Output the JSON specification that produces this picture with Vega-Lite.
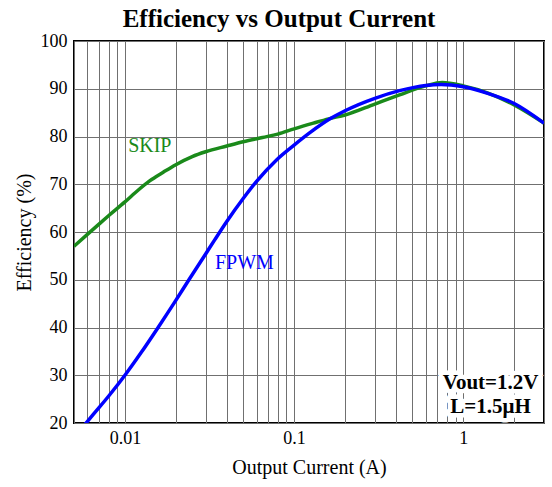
{
  "$schema": "https://vega.github.io/schema/vega-lite/v6.json",
  "autosize": "none",
  "width": 470,
  "height": 382,
  "padding": {"left": 74, "top": 41, "right": 8, "bottom": 64},
  "background": "white",
  "config": {
    "font": "Liberation Serif",
    "view": {"stroke": "#000000", "strokeWidth": 2},
    "axis": {"labelFont": "Liberation Serif", "titleFont": "Liberation Serif", "labelColor": "#000", "titleColor": "#000", "domain": false, "ticks": false, "gridColor": "#707070", "gridOpacity": 1, "gridWidth": 1, "labelFontSize": 18, "titleFontSize": 20, "titleFontWeight": "normal"}
  },
  "title": {"text": "Efficiency vs Output Current", "font": "Liberation Serif", "fontSize": 25, "fontWeight": "bold", "color": "#000", "anchor": "middle", "frame": "bounds", "offset": 0},
  "datasets": {
    "curves": [
      {"series": "SKIP", "I": 0.005, "Eff": 57.0},
      {"series": "SKIP", "I": 0.006, "Eff": 59.5},
      {"series": "SKIP", "I": 0.007, "Eff": 61.6},
      {"series": "SKIP", "I": 0.008, "Eff": 63.4},
      {"series": "SKIP", "I": 0.01, "Eff": 66.3},
      {"series": "SKIP", "I": 0.012, "Eff": 68.8},
      {"series": "SKIP", "I": 0.014, "Eff": 70.7},
      {"series": "SKIP", "I": 0.017, "Eff": 72.6},
      {"series": "SKIP", "I": 0.02, "Eff": 74.1},
      {"series": "SKIP", "I": 0.025, "Eff": 75.8},
      {"series": "SKIP", "I": 0.03, "Eff": 76.8},
      {"series": "SKIP", "I": 0.04, "Eff": 78.0},
      {"series": "SKIP", "I": 0.05, "Eff": 78.9},
      {"series": "SKIP", "I": 0.065, "Eff": 79.8},
      {"series": "SKIP", "I": 0.08, "Eff": 80.5},
      {"series": "SKIP", "I": 0.1, "Eff": 81.6},
      {"series": "SKIP", "I": 0.13, "Eff": 82.8},
      {"series": "SKIP", "I": 0.16, "Eff": 83.7},
      {"series": "SKIP", "I": 0.2, "Eff": 84.5},
      {"series": "SKIP", "I": 0.3, "Eff": 86.8},
      {"series": "SKIP", "I": 0.42, "Eff": 88.7},
      {"series": "SKIP", "I": 0.6, "Eff": 90.6},
      {"series": "SKIP", "I": 0.75, "Eff": 91.3},
      {"series": "SKIP", "I": 1.0, "Eff": 90.6},
      {"series": "SKIP", "I": 1.4, "Eff": 89.1},
      {"series": "SKIP", "I": 2.0, "Eff": 86.6},
      {"series": "SKIP", "I": 3.0, "Eff": 82.8},
      {"series": "FPWM", "I": 0.0055, "Eff": 18.7},
      {"series": "FPWM", "I": 0.0065, "Eff": 21.8},
      {"series": "FPWM", "I": 0.008, "Eff": 25.6},
      {"series": "FPWM", "I": 0.01, "Eff": 30.0},
      {"series": "FPWM", "I": 0.0125, "Eff": 34.8},
      {"series": "FPWM", "I": 0.0155, "Eff": 39.7},
      {"series": "FPWM", "I": 0.0196, "Eff": 45.2},
      {"series": "FPWM", "I": 0.024, "Eff": 50.1},
      {"series": "FPWM", "I": 0.03, "Eff": 55.4},
      {"series": "FPWM", "I": 0.034, "Eff": 58.4},
      {"series": "FPWM", "I": 0.04, "Eff": 62.2},
      {"series": "FPWM", "I": 0.05, "Eff": 67.0},
      {"series": "FPWM", "I": 0.06, "Eff": 70.6},
      {"series": "FPWM", "I": 0.0787, "Eff": 75.1},
      {"series": "FPWM", "I": 0.1, "Eff": 78.2},
      {"series": "FPWM", "I": 0.124, "Eff": 80.8},
      {"series": "FPWM", "I": 0.163, "Eff": 83.7},
      {"series": "FPWM", "I": 0.2, "Eff": 85.4},
      {"series": "FPWM", "I": 0.3, "Eff": 88.0},
      {"series": "FPWM", "I": 0.42, "Eff": 89.6},
      {"series": "FPWM", "I": 0.6, "Eff": 90.7},
      {"series": "FPWM", "I": 0.74, "Eff": 90.9},
      {"series": "FPWM", "I": 1.0, "Eff": 90.4},
      {"series": "FPWM", "I": 1.38, "Eff": 89.1},
      {"series": "FPWM", "I": 2.0, "Eff": 86.9},
      {"series": "FPWM", "I": 3.0, "Eff": 82.8}
    ],
    "labels": [
      {"series": "SKIP", "I": 0.01403, "Eff": 76.7, "text": "SKIP"},
      {"series": "FPWM", "I": 0.05086, "Eff": 52.24, "text": "FPWM"}
    ],
    "notes": [
      {"I": 1.45, "Eff": 27.13, "text": "Vout=1.2V"},
      {"I": 1.45, "Eff": 22.11, "text": "L=1.5μH"}
    ]
  },
  "encoding": {
    "x": {"field": "I", "type": "quantitative",
      "scale": {"type": "log", "domain": [0.005, 3], "nice": false},
      "axis": {"title": "Output Current (A)", "values": [0.005,0.006,0.007,0.008,0.009,0.01,0.02,0.03,0.04,0.05,0.06,0.07,0.08,0.09,0.1,0.2,0.3,0.4,0.5,0.6,0.7,0.8,0.9,1,2,3],
        "labelExpr": "datum.value == 0.01 ? '0.01' : datum.value == 0.1 ? '0.1' : datum.value == 1 ? '1' : ''",
        "labelOverlap": false, "labelFlush": false, "labelPadding": 6, "titlePadding": 10, "grid": true}},
    "y": {"field": "Eff", "type": "quantitative",
      "scale": {"domain": [20, 100], "nice": false, "zero": false},
      "axis": {"title": "Efficiency (%)", "values": [20,30,40,50,60,70,80,90,100], "labelPadding": 7, "titlePadding": 6, "grid": true}}
  },
  "layer": [
    {"data": {"name": "curves"}, "transform": [{"filter": "datum.series == 'SKIP'"}],
     "mark": {"type": "line", "interpolate": "monotone", "strokeWidth": 3.5, "color": "#1a8a1a", "clip": true}},
    {"data": {"name": "curves"}, "transform": [{"filter": "datum.series == 'FPWM'"}],
     "mark": {"type": "line", "interpolate": "monotone", "strokeWidth": 3.5, "color": "#0000ff", "clip": true}},
    {"data": {"name": "labels"},
     "mark": {"type": "text", "fontSize": 20, "font": "Liberation Serif", "baseline": "alphabetic", "align": "center"},
     "encoding": {"text": {"field": "text"}, "color": {"field": "series", "type": "nominal", "scale": {"domain": ["SKIP", "FPWM"], "range": ["#1a8a1a", "#0000ff"]}, "legend": null}}},
    {"data": {"name": "notes"},
     "mark": {"type": "text", "fontSize": 21, "fontWeight": "bold", "font": "Liberation Serif", "baseline": "alphabetic", "align": "center", "stroke": "white", "strokeWidth": 9, "strokeJoin": "round", "fill": "white"},
     "encoding": {"text": {"field": "text"}}},
    {"data": {"name": "notes"},
     "mark": {"type": "text", "fontSize": 21, "fontWeight": "bold", "font": "Liberation Serif", "baseline": "alphabetic", "align": "center", "color": "#000"},
     "encoding": {"text": {"field": "text"}}}
  ]
}
